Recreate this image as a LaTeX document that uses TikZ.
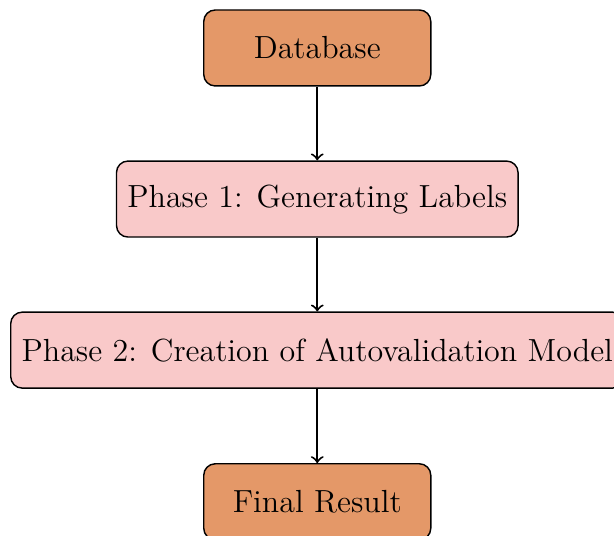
\documentclass[tikz,border=0pt]{standalone}
\definecolor{endfill}{RGB}{228,152,104}
\definecolor{phasefill}{RGB}{249,201,201}
\tikzset{
  box/.style={draw, rounded corners=4pt, line width=0.5pt, minimum height=26.6pt, inner sep=3.8pt, align=center, font=\fontsize{11.2}{13.6}\selectfont},
  endbox/.style={box, fill=endfill, minimum width=79.5pt},
  phasebox/.style={box, fill=phasefill},
  flow/.style={->, line width=0.7pt}
}
\begin{document}
\begin{tikzpicture}[x=1pt,y=1pt]
  \useasboundingbox (0,0) rectangle (215,-187.6);
  \clip (0,0) rectangle (215,-187.6);
  \node[endbox]   (db) at (111.1,-16.8)  {Database};
  \node[phasebox] (p1) at (111.1,-69.7)  {Phase 1: Generating Labels};
  \node[phasebox] (p2) at (111.1,-122.6) {Phase 2: Creation of Autovalidation Model};
  \node[endbox]   (fr) at (111.1,-175.7) {Final Result};
  \draw[flow] (db) -- (p1);
  \draw[flow] (p1) -- (p2);
  \draw[flow] (p2) -- (fr);
\end{tikzpicture}
\end{document}
